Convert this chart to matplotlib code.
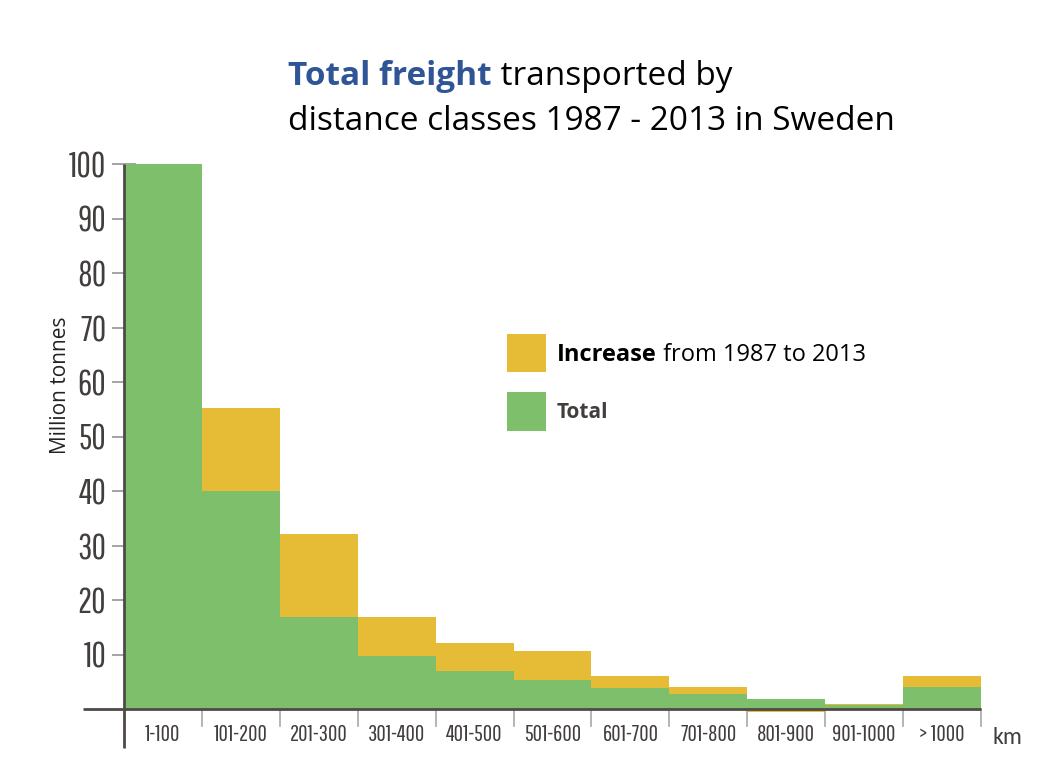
import matplotlib
matplotlib.use("Agg")
import matplotlib.pyplot as plt
from matplotlib.patches import Rectangle
import numpy as np

# ---- data ----
categories = ['1-100', '101-200', '201-300', '301-400', '401-500', '501-600',
              '601-700', '701-800', '801-900', '901-1000', '> 1000']
total_1987 = [100, 40.0, 16.8, 9.8, 7.0, 5.4, 3.9, 2.8, 1.8, 0.8, 4.0]
increase = [0, 15.2, 15.3, 7.0, 5.2, 5.3, 2.2, 1.2, -0.55, 0.2, 2.1]
yticks = [10, 20, 30, 40, 50, 60, 70, 80, 90, 100]

GREEN = '#7dbf6b'
YELLOW = '#e6bc36'
AXIS = '#4f4a48'
TEXT = '#433e3e'
BLUE = '#2f5597'
NARROW = ['Pathway Gothic One', 'DejaVu Sans']
SANS = ['Open Sans', 'DejaVu Sans']
CAL = ['Carlito', 'Open Sans', 'DejaVu Sans']

W, H = 1048, 776
fig = plt.figure(figsize=(W / 100, H / 100), dpi=100)
fig.patch.set_facecolor('white')

left, right, bottom, top = 124, 981, 709, 164
ax = fig.add_axes([left / W, 1 - bottom / H, (right - left) / W, (bottom - top) / H])
ax.set_xlim(0, len(categories))
ax.set_ylim(0, 100)
for s in ax.spines.values():
    s.set_visible(False)

x = np.arange(len(categories))
tot = np.array(total_1987)
inc = np.array(increase)
ax.bar(x, tot, width=1.0, align='edge', color=GREEN, edgecolor='none', clip_on=False, zorder=2)
inc_bottom = np.where(inc >= 0, tot, 0)
ax.bar(x, inc, bottom=inc_bottom, width=1.0, align='edge', color=YELLOW,
       edgecolor='none', clip_on=False, zorder=2)

ax_h = bottom - top
ax_w = right - left
ax.plot([0, 0], [1, -(748 - bottom) / ax_h], transform=ax.transAxes, color=AXIS,
        lw=2.0, clip_on=False, zorder=4, solid_capstyle='butt')
ax.plot([-(left - 83) / ax_w, 1], [0, 0], transform=ax.transAxes, color=AXIS,
        lw=2.0, clip_on=False, zorder=4, solid_capstyle='butt')
for b in range(1, len(categories) + 1):
    ax.plot([b / len(categories)] * 2, [0, -(726 - bottom) / ax_h], transform=ax.transAxes,
            color='#a8a8a8', lw=1.2, clip_on=False, zorder=3)

ax.set_yticks(yticks)
ax.set_yticklabels([str(v) for v in yticks], fontfamily=NARROW, fontsize=25.5, color=TEXT)
ax.tick_params(axis='y', direction='inout', length=17.5, width=1.1, color='#8a8a8a', pad=4)

ax.set_xticks(x + 0.5)
ax.set_xticklabels(categories, fontfamily=NARROW, fontsize=16.5, color=TEXT)
ax.tick_params(axis='x', length=0, pad=11)

ax.set_ylabel('Million tonnes', fontfamily=SANS, fontsize=15, color='#222222')
ax.yaxis.set_label_coords(-(left - 71) / ax_w, (bottom - 385) / ax_h)

fig.text(992 / W, 1 - 737 / H, 'km', fontfamily=CAL, fontsize=17, color=TEXT,
         ha='left', va='center')

t1 = fig.text(288 / W, 1 - 85 / H, 'Total freight', fontfamily=SANS, fontweight='bold',
              fontsize=24, color=BLUE, ha='left', va='baseline')
ax.annotate(' transported by', xy=(1, 0), xycoords=t1, xytext=(0, 0), textcoords='offset points',
            fontfamily=SANS, fontsize=24, color='black', ha='left', va='bottom',
            annotation_clip=False)
fig.text(288 / W, 1 - 130 / H, 'distance classes 1987 - 2013 in Sweden', fontfamily=SANS,
         fontsize=24, color='black', ha='left', va='baseline')

fig.patches.append(Rectangle((507 / W, 1 - 372 / H), 39 / W, 38 / H, transform=fig.transFigure,
                             facecolor=YELLOW, edgecolor='none', figure=fig))
fig.patches.append(Rectangle((507 / W, 1 - 431 / H), 39 / W, 39 / H, transform=fig.transFigure,
                             facecolor=GREEN, edgecolor='none', figure=fig))
l1 = fig.text(557 / W, 1 - 355 / H, 'Increase', fontfamily=SANS, fontweight='bold',
              fontsize=17, color='black', ha='left', va='center')
ax.annotate(' from 1987 to 2013', xy=(1, 0), xycoords=l1, xytext=(0, 0),
            textcoords='offset points', fontfamily=SANS, fontsize=17, color='black',
            ha='left', va='bottom', annotation_clip=False)
fig.text(557 / W, 1 - 413 / H, 'Total', fontfamily=SANS, fontweight='bold',
         fontsize=15, color=TEXT, ha='left', va='center')

fig.savefig('out.png', dpi=100, facecolor='white')
